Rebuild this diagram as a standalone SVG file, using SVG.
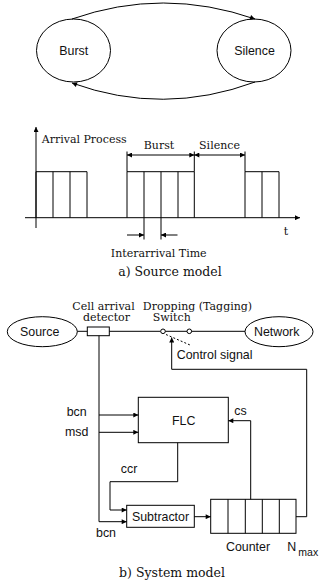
<svg xmlns="http://www.w3.org/2000/svg" width="320" height="586" viewBox="0 0 320 586">
<style>
.s{fill:none;stroke:#000;stroke-width:1}
.b{fill:#fff;stroke:#000;stroke-width:1}
.sans{font-family:"Liberation Sans",Arial,sans-serif;font-size:12.4px;fill:#111}
.serif{font-family:"DejaVu Serif","Liberation Serif",serif;font-size:11px;fill:#111}
.cap{font-family:"DejaVu Serif","Liberation Serif",serif;font-size:12.5px;fill:#111}
.m{text-anchor:middle}
.e{text-anchor:end}
</style>
<defs>
<marker id="a" viewBox="0 0 10 10" refX="10" refY="5" markerWidth="6" markerHeight="5" markerUnits="userSpaceOnUse" orient="auto-start-reverse">
<path d="M0,0 L10,5 L0,10 z" fill="#000"/>
</marker>
</defs>
<rect width="320" height="586" fill="#fff"/>

<!-- a) state diagram -->
<g id="burst-state"><ellipse class="b" cx="73.5" cy="50.5" rx="37" ry="31.5"/><text class="sans m" x="73.8" y="55">Burst</text></g>
<g id="silence-state"><ellipse class="b" cx="254" cy="50.5" rx="37" ry="31.5"/><text class="sans m" x="254.5" y="55">Silence</text></g>
<g id="state-connectors">
<path class="s" d="M72,19 Q163,-13 255,19" marker-end="url(#a)"/>
<path class="s" d="M255,82 Q163,116 72,83" marker-end="url(#a)"/>
</g>

<!-- arrival process plot -->
<g id="arrival-plot">
<line class="s" x1="36" y1="228" x2="36" y2="127" marker-end="url(#a)"/>
<line class="s" x1="25" y1="217.7" x2="300" y2="217.7" marker-end="url(#a)"/>
<path class="s" d="M36,217.7 V171.7 H87 V217.7 M53,171.7 V217.7 M70,171.7 V217.7"/>
<path class="s" d="M127,217.7 V171.7 H194.3 V217.7 M144,171.7 V217.7 M161,171.7 V217.7 M178,171.7 V217.7"/>
<path class="s" d="M245,217.7 V171.7 H279 V217.7 M262,171.7 V217.7"/>
<path class="s" d="M127,171.7 V151.5 M194.3,171.7 V151.5 M245,171.7 V151.5"/>
<line class="s" x1="127" y1="155" x2="194.3" y2="155" marker-start="url(#a)" marker-end="url(#a)"/>
<line class="s" x1="194.3" y1="155" x2="245" y2="155" marker-start="url(#a)" marker-end="url(#a)"/>
<path class="s" d="M144,217.7 V239.5 M161,217.7 V239.5"/>
<line class="s" x1="127" y1="235" x2="144" y2="235" marker-end="url(#a)"/>
<line class="s" x1="177.5" y1="235" x2="161" y2="235" marker-end="url(#a)"/>
<text class="serif" x="41.7" y="143.3">Arrival Process</text>
<text class="serif m" x="159" y="149.3">Burst</text>
<text class="serif m" x="219.5" y="149.3">Silence</text>
<text class="serif m" x="286" y="235">t</text>
<text class="serif m" x="158.7" y="256.7">Interarrival Time</text>
<text class="cap m" x="170" y="276">a) Source model</text>
</g>

<!-- b) system model nodes -->
<g id="source"><ellipse class="b" cx="42.3" cy="331.7" rx="35" ry="15"/><text class="sans m" x="39.7" y="335.5">Source</text></g>
<g id="network"><ellipse class="b" cx="279" cy="331.7" rx="34" ry="15"/><text class="sans m" x="276.7" y="335.5">Network</text></g>
<g id="detector"><rect class="b" x="87.3" y="327" width="22" height="8.7"/>
<text class="serif m" x="103.5" y="310">Cell arrival</text><text class="serif m" x="106.5" y="320.5">detector</text></g>
<g id="switch">
<text class="serif m" x="197.5" y="310">Dropping (Tagging)</text><text class="serif m" x="171.7" y="320.5">Switch</text>
</g>
<g id="flc"><rect class="b" x="138.3" y="397.3" width="90" height="45.4"/><text class="sans m" x="183.7" y="425">FLC</text></g>
<g id="subtractor"><rect class="b" x="126.7" y="505.3" width="67.6" height="22"/><text class="sans m" x="160.5" y="520.5">Subtractor</text></g>
<g id="counter"><rect class="b" x="210.7" y="499.3" width="85.3" height="34"/>
<path class="s" d="M228,499.3 V533.3 M245.3,499.3 V533.3 M262.3,499.3 V533.3 M279.3,499.3 V533.3"/>
<text class="sans m" x="248" y="550.7">Counter</text>
<text class="sans" x="287.3" y="550.7">N</text><text class="sans" x="298.3" y="555.5" style="font-size:10.5px">max</text></g>

<!-- connectors -->
<g id="connectors">
<line class="s" x1="77.3" y1="331.3" x2="87.3" y2="331.3"/>
<line class="s" x1="109.3" y1="331.3" x2="160.7" y2="331.3"/>
<circle class="b" cx="163" cy="331.3" r="2.3"/>
<line class="s" x1="165.3" y1="331.3" x2="187" y2="331.3"/>
<circle class="b" cx="189.3" cy="331.3" r="2.3"/>
<line class="s" x1="191.6" y1="331.3" x2="245" y2="331.3"/>
<line class="s" x1="166" y1="334.5" x2="190" y2="345" stroke-dasharray="2,2"/>
<path class="s" d="M296,516.7 H306.7 V369.3 H171.7 V337.5" marker-end="url(#a)"/>
<path class="s" d="M99,335.7 V521.7 H126.7" marker-end="url(#a)"/>
<line class="s" x1="99" y1="415" x2="138.3" y2="415" marker-end="url(#a)"/>
<line class="s" x1="99" y1="432.3" x2="138.3" y2="432.3" marker-end="url(#a)"/>
<path class="s" d="M250.7,499.3 V420.7 H228.3" marker-end="url(#a)"/>
<path class="s" d="M177.7,442.7 V481.7 H110 V510 H126.7" marker-end="url(#a)"/>
<line class="s" x1="194.3" y1="516.7" x2="210.7" y2="516.7" marker-end="url(#a)"/>
<text class="sans" x="176.7" y="359">Control signal</text>
<text class="sans e" x="86.7" y="416">bcn</text>
<text class="sans e" x="88.3" y="435.7">msd</text>
<text class="sans m" x="240.5" y="415.3">cs</text>
<text class="sans m" x="129" y="472.7">ccr</text>
<text class="sans" x="96" y="536.7">bcn</text>
</g>
<text class="cap m" x="172" y="576.7">b) System model</text>
</svg>
